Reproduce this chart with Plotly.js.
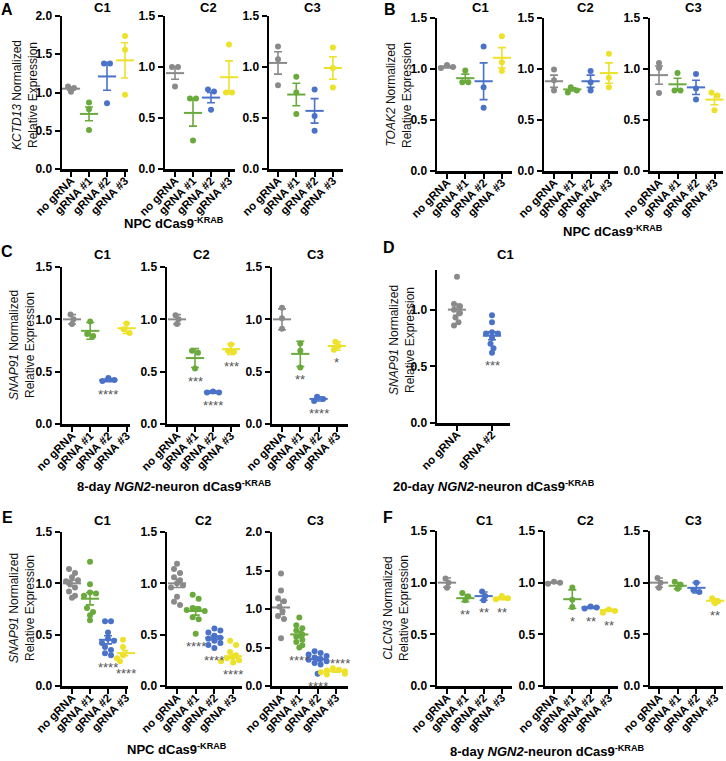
<!DOCTYPE html>
<html><head><meta charset="utf-8">
<script src="https://cdn.plot.ly/plotly-3.0.1.min.js"></script>
<style>html,body{margin:0;padding:0;background:#fff}#plot{width:726px;height:761px}</style>
</head><body><div id="plot"></div>
<script>
// ---------------- DATA ----------------
const groups4 = ['no gRNA', 'gRNA #1', 'gRNA #2', 'gRNA #3'];
const groupsD = ['no gRNA', 'gRNA #2'];

// A: KCTD13, NPC dCas9-KRAB
const A_C1_pts = [[1.08, 1.06, 1.01], [0.87, 0.78, 0.51], [1.38, 1.38, 0.86], [1.74, 1.56, 0.97]];
const A_C1_mean = [1.05, 0.72, 1.21, 1.42];
const A_C1_err = [0.02, 0.09, 0.18, 0.23];
const A_C2_pts = [[1.0, 1.0, 0.81], [0.69, 0.69, 0.28], [0.78, 0.76, 0.58], [1.22, 0.75, 0.75]];
const A_C2_mean = [0.94, 0.55, 0.70, 0.90];
const A_C2_err = [0.06, 0.13, 0.05, 0.16];
const A_C3_pts = [[1.20, 1.075, 0.82], [0.905, 0.75, 0.54], [0.78, 0.52, 0.375], [1.19, 0.99, 0.80]];
const A_C3_mean = [1.04, 0.73, 0.57, 0.99];
const A_C3_err = [0.11, 0.11, 0.12, 0.11];

// B: TOAK2, NPC dCas9-KRAB
const B_C1_pts = [[1.04, 1.02, 1.01], [0.985, 0.87, 0.87], [1.22, 0.82, 0.62], [1.32, 1.066, 0.98]];
const B_C1_mean = [1.02, 0.91, 0.88, 1.11];
const B_C1_err = [0.01, 0.04, 0.18, 0.10];
const B_C2_pts = [[0.995, 0.89, 0.79], [0.82, 0.79, 0.77], [0.98, 0.87, 0.79], [1.15, 0.915, 0.82]];
const B_C2_mean = [0.88, 0.80, 0.88, 0.96];
const B_C2_err = [0.06, 0.015, 0.06, 0.10];
const B_C3_pts = [[1.06, 1.01, 0.765], [0.96, 0.79, 0.79], [0.95, 0.81, 0.70], [0.77, 0.74, 0.595]];
const B_C3_mean = [0.94, 0.85, 0.82, 0.70];
const B_C3_err = [0.09, 0.06, 0.07, 0.05];

// C: SNAP91, 8-day NGN2-neuron
const C_C1_pts = [[1.045, 1.0, 0.955], [0.98, 0.86, 0.84], [0.44, 0.42, 0.41], [0.96, 0.905, 0.87]];
const C_C1_mean = [1.0, 0.89, 0.42, 0.915];
const C_C1_err = [0.045, 0.08, 0.015, 0.05];
const C_C1_sig = ['', '', '****', ''];
const C_C2_pts = [[1.04, 1.0, 0.955], [0.70, 0.68, 0.53], [0.31, 0.30, 0.30], [0.76, 0.70, 0.69]];
const C_C2_mean = [1.0, 0.63, 0.305, 0.715];
const C_C2_err = [0.045, 0.09, 0.01, 0.05];
const C_C2_sig = ['', '***', '****', '***'];
const C_C3_pts = [[1.11, 1.01, 0.91], [0.77, 0.70, 0.54], [0.26, 0.24, 0.22], [0.785, 0.745, 0.71]];
const C_C3_mean = [1.0, 0.67, 0.24, 0.745];
const C_C3_err = [0.10, 0.12, 0.02, 0.04];
const C_C3_sig = ['', '**', '****', '*'];

// D: SNAP91, 20-day NGN2-neuron
const D_C1_pts = [[1.29, 1.05, 1.03, 1.0, 0.97, 0.93, 0.89, 0.86], [0.95, 0.89, 0.80, 0.79, 0.79, 0.75, 0.70, 0.66, 0.62]];
const D_C1_mean = [1.0, 0.77];
const D_C1_err = [0.05, 0.035];
const D_C1_sig = ['', '***'];

// E: SNAP91, NPC dCas9-KRAB
const E_C1_pts = [[1.14, 1.10, 1.06, 1.03, 1.02, 1.0, 0.96, 0.92, 0.88, 0.86],
  [1.21, 0.99, 0.91, 0.90, 0.88, 0.76, 0.72, 0.69, 0.64],
  [0.63, 0.63, 0.52, 0.46, 0.44, 0.42, 0.38, 0.35, 0.32, 0.30],
  [0.45, 0.41, 0.38, 0.35, 0.30, 0.28, 0.27, 0.26, 0.25, 0.24]];
const E_C1_mean = [1.0, 0.85, 0.45, 0.32];
const E_C1_err = [0.03, 0.06, 0.04, 0.025];
const E_C1_sig = ['', '', '****', '****'];
const E_C2_pts = [[1.19, 1.14, 1.10, 1.06, 1.03, 1.0, 0.98, 0.96, 0.87, 0.82, 0.79],
  [0.89, 0.85, 0.76, 0.75, 0.74, 0.73, 0.67, 0.65, 0.51],
  [0.56, 0.54, 0.52, 0.49, 0.47, 0.46, 0.44, 0.42, 0.40, 0.37],
  [0.44, 0.40, 0.33, 0.30, 0.28, 0.27, 0.26, 0.25, 0.24, 0.23]];
const E_C2_mean = [1.0, 0.73, 0.47, 0.29];
const E_C2_err = [0.04, 0.04, 0.02, 0.02];
const E_C2_sig = ['', '****', '****', '****'];
const E_C3_pts = [[1.46, 1.24, 1.14, 1.10, 1.03, 0.97, 0.91, 0.87, 0.62],
  [0.89, 0.79, 0.75, 0.72, 0.67, 0.64, 0.60, 0.57, 0.53, 0.50],
  [0.45, 0.43, 0.41, 0.39, 0.37, 0.35, 0.34, 0.32, 0.30, 0.28, 0.16],
  [0.23, 0.21, 0.20, 0.19, 0.18, 0.17, 0.16, 0.15]];
const E_C3_mean = [1.02, 0.67, 0.35, 0.19];
const E_C3_err = [0.09, 0.04, 0.025, 0.01];
const E_C3_sig = ['', '****', '****', '****'];

// F: CLCN3, 8-day NGN2-neuron
const F_C1_pts = [[1.04, 1.0, 0.95], [0.90, 0.867, 0.83], [0.915, 0.87, 0.83], [0.87, 0.85, 0.84]];
const F_C1_mean = [1.0, 0.85, 0.87, 0.85];
const F_C1_err = [0.045, 0.035, 0.04, 0.015];
const F_C1_sig = ['', '**', '**', '**'];
const F_C2_pts = [[1.01, 1.0, 0.99], [0.954, 0.835, 0.764], [0.77, 0.76, 0.75], [0.74, 0.725, 0.71]];
const F_C2_mean = [1.0, 0.84, 0.76, 0.735];
const F_C2_err = [0.005, 0.09, 0.01, 0.01];
const F_C2_sig = ['', '*', '**', '**'];
const F_C3_pts = [[1.045, 1.0, 0.95], [1.01, 0.98, 0.94], [1.0, 0.93, 0.91], [0.85, 0.82, 0.80]];
const F_C3_mean = [1.0, 0.97, 0.95, 0.825];
const F_C3_err = [0.045, 0.03, 0.05, 0.02];
const F_C3_sig = ['', '', '', '**'];

// ---------------- LAYOUT / DRAWING ----------------
const W = 726, H = 761;
const FONT = 'Liberation Sans, Arial, sans-serif';
const COL4 = ['#8a8a8a', '#6aaa3c', '#4a72c8', '#ede12a'];
const COLD = ['#8a8a8a', '#4a72c8'];
const traces = [];
const layout = {
  width: W, height: H, margin: {l: 0, r: 0, t: 0, b: 0}, showlegend: false,
  paper_bgcolor: '#ffffff', plot_bgcolor: 'rgba(0,0,0,0)', annotations: [],
  font: {family: FONT, color: '#000'}
};
let nSub = 0;
const DOT = 6;

function swarmOffsets(vals, pxPerY) {
  const order = vals.map((v, i) => i).sort((a, b) => vals[b] - vals[a]);
  const placed = [];
  const off = new Array(vals.length).fill(0);
  const minD = DOT * 0.85;
  for (const i of order) {
    const y = vals[i] * pxPerY;
    let best = 0;
    for (let k = 0; k < 40; k++) {
      const c = k === 0 ? 0 : (k % 2 ? 1 : -1) * Math.ceil(k / 2) * DOT * 0.5;
      if (placed.every(p => Math.hypot(p.x - c, p.y - y) >= minD)) { best = c; break; }
    }
    off[i] = best;
    placed.push({x: best, y: y, i: i});
  }
  let r = 0;
  while (r < order.length) {
    const y0 = vals[order[r]] * pxPerY;
    let e = r;
    while (e + 1 < order.length && Math.abs(vals[order[e + 1]] * pxPerY - y0) < minD) e++;
    const row = order.slice(r, e + 1);
    if (row.length > 1) {
      const xs = row.map(i => off[i]);
      const mid = (Math.min(...xs) + Math.max(...xs)) / 2;
      row.forEach(i => off[i] -= mid);
    }
    r = e + 1;
  }
  return off;
}

function addSub(g) {
  nSub++;
  const xa = nSub === 1 ? 'xaxis' : 'xaxis' + nSub;
  const ya = nSub === 1 ? 'yaxis' : 'yaxis' + nSub;
  const xr = nSub === 1 ? 'x' : 'x' + nSub;
  const yr = nSub === 1 ? 'y' : 'y' + nSub;
  const lo = (g.x0 - g.t0) / g.s, hi = (g.x1 - g.t0) / g.s;
  const ytv = [];
  for (let v = 0; v <= g.ymax + 1e-9; v += 0.5) ytv.push(+v.toFixed(1));
  layout[xa] = {
    domain: [g.x0 / W, g.x1 / W], range: [lo, hi], anchor: yr,
    tickvals: g.cats.map((c, i) => i), ticktext: g.cats, tickangle: -45, ticklabelstandoff: -7,
    showline: true, linecolor: '#000', linewidth: 2.5, ticks: 'outside', ticklen: 5, tickwidth: 2, tickcolor: '#000',
    showgrid: false, zeroline: false, fixedrange: true, automargin: false,
    tickfont: {family: FONT, size: 11.5, color: '#000', weight: 'bold'}
  };
  layout[ya] = {
    domain: [(H - g.ybot) / H, (H - g.ytop) / H], range: [0, g.ymax], anchor: xr,
    tickvals: ytv, ticktext: ytv.map(v => v.toFixed(1)),
    showline: true, linecolor: '#000', linewidth: 2.5, ticks: 'outside', ticklen: 5, tickwidth: 2, tickcolor: '#000',
    showgrid: false, zeroline: false, fixedrange: true, automargin: false,
    tickfont: {family: FONT, size: 12, color: '#000', weight: 'bold'}
  };
  const pxPerY = (g.ybot - g.ytop) / g.ymax;
  g.pts.forEach((vals, i) => {
    const off = swarmOffsets(vals, pxPerY);
    traces.push({
      type: 'scatter', mode: 'markers', xaxis: xr, yaxis: yr, cliponaxis: false,
      x: vals.map((v, j) => i + off[j] / g.s), y: vals, hoverinfo: 'skip',
      marker: {size: DOT, color: g.cols[i], line: {width: 0}}
    });
    traces.push({
      type: 'scatter', mode: 'markers', xaxis: xr, yaxis: yr, cliponaxis: false,
      x: [i], y: [g.mean[i]], hoverinfo: 'skip',
      marker: {symbol: 'line-ew', size: 13, color: g.cols[i], line: {width: 2, color: g.cols[i]}},
      error_y: {type: 'data', array: [g.err[i]], visible: true, color: g.cols[i], thickness: 1.6, width: 4}
    });
    if (g.sig && g.sig[i]) {
      const above = g.above && g.above.includes(i);
      const lowV = Math.min(Math.min(...vals), g.mean[i] - g.err[i]);
      layout.annotations.push({
        xref: xr, yref: yr, x: i, y: above ? Math.max(...vals) : lowV,
        text: g.sig[i], showarrow: false, yanchor: above ? 'bottom' : 'top',
        yshift: above ? -5 : -3, xshift: above ? 4 : 0,
        font: {family: FONT, size: 13, color: '#555'}
      });
    }
  });
  layout.annotations.push({
    xref: 'paper', yref: 'paper', x: g.tx / W, y: 1 - g.ty / H, text: g.title,
    showarrow: false, xanchor: 'center', yanchor: 'middle',
    font: {family: FONT, size: 13, color: '#000', weight: 'bold'}
  });
}

function paperText(text, x, y, size, opts) {
  layout.annotations.push(Object.assign({
    xref: 'paper', yref: 'paper', x: x / W, y: 1 - y / H, text: text, showarrow: false,
    xanchor: 'center', yanchor: 'middle', font: {family: FONT, size: size, color: '#000', weight: 'bold'}
  }, opts || {}));
}

// A
addSub({x0: 62, x1: 128, t0: 71, s: 18, ytop: 16, ybot: 169, ymax: 2.0, cats: groups4, cols: COL4, pts: A_C1_pts, mean: A_C1_mean, err: A_C1_err, title: 'C1', tx: 102, ty: 7});
addSub({x0: 165, x1: 235, t0: 175, s: 18, ytop: 16, ybot: 169, ymax: 1.5, cats: groups4, cols: COL4, pts: A_C2_pts, mean: A_C2_mean, err: A_C2_err, title: 'C2', tx: 208, ty: 7});
addSub({x0: 269, x1: 343, t0: 278, s: 18.3, ytop: 16, ybot: 169, ymax: 1.5, cats: groups4, cols: COL4, pts: A_C3_pts, mean: A_C3_mean, err: A_C3_err, title: 'C3', tx: 312, ty: 7});
// B
addSub({x0: 437, x1: 512, t0: 447, s: 18.3, ytop: 18, ybot: 171, ymax: 1.5, cats: groups4, cols: COL4, pts: B_C1_pts, mean: B_C1_mean, err: B_C1_err, title: 'C1', tx: 480, ty: 7});
addSub({x0: 544, x1: 618, t0: 554, s: 18.3, ytop: 18, ybot: 171, ymax: 1.5, cats: groups4, cols: COL4, pts: B_C2_pts, mean: B_C2_mean, err: B_C2_err, title: 'C2', tx: 585, ty: 7});
addSub({x0: 650, x1: 723, t0: 659, s: 18.5, ytop: 18, ybot: 171, ymax: 1.5, cats: groups4, cols: COL4, pts: B_C3_pts, mean: B_C3_mean, err: B_C3_err, title: 'C3', tx: 693, ty: 7});
// C
addSub({x0: 62, x1: 130, t0: 72, s: 18.2, ytop: 267, ybot: 424, ymax: 1.5, cats: groups4, cols: COL4, pts: C_C1_pts, mean: C_C1_mean, err: C_C1_err, sig: C_C1_sig, title: 'C1', tx: 103, ty: 255});
addSub({x0: 167, x1: 240, t0: 177, s: 18, ytop: 267, ybot: 424, ymax: 1.5, cats: groups4, cols: COL4, pts: C_C2_pts, mean: C_C2_mean, err: C_C2_err, sig: C_C2_sig, title: 'C2', tx: 202, ty: 255});
addSub({x0: 272, x1: 348, t0: 282, s: 18.3, ytop: 267, ybot: 424, ymax: 1.5, cats: groups4, cols: COL4, pts: C_C3_pts, mean: C_C3_mean, err: C_C3_err, sig: C_C3_sig, title: 'C3', tx: 315, ty: 255});
// D
addSub({x0: 437, x1: 510, t0: 457, s: 35, ytop: 270, ybot: 423, ymax: 1.35, cats: groupsD, cols: COLD, pts: D_C1_pts, mean: D_C1_mean, err: D_C1_err, sig: D_C1_sig, title: 'C1', tx: 505, ty: 255});
// E
addSub({x0: 62, x1: 128, t0: 72, s: 18, ytop: 532, ybot: 686, ymax: 1.5, cats: groups4, cols: COL4, pts: E_C1_pts, mean: E_C1_mean, err: E_C1_err, sig: E_C1_sig, title: 'C1', tx: 103, ty: 520});
addSub({x0: 167, x1: 242, t0: 177, s: 18.7, ytop: 532, ybot: 686, ymax: 1.5, cats: groups4, cols: COL4, pts: E_C2_pts, mean: E_C2_mean, err: E_C2_err, sig: E_C2_sig, title: 'C2', tx: 203, ty: 520});
addSub({x0: 272, x1: 348, t0: 281, s: 18.3, ytop: 532, ybot: 686, ymax: 2.0, cats: groups4, cols: COL4, pts: E_C3_pts, mean: E_C3_mean, err: E_C3_err, sig: E_C3_sig, above: [3], title: 'C3', tx: 315, ty: 520});
// F
addSub({x0: 437, x1: 512, t0: 447, s: 18.3, ytop: 531, ybot: 686, ymax: 1.5, cats: groups4, cols: COL4, pts: F_C1_pts, mean: F_C1_mean, err: F_C1_err, sig: F_C1_sig, title: 'C1', tx: 484, ty: 520});
addSub({x0: 545, x1: 618, t0: 554, s: 18.3, ytop: 531, ybot: 686, ymax: 1.5, cats: groups4, cols: COL4, pts: F_C2_pts, mean: F_C2_mean, err: F_C2_err, sig: F_C2_sig, title: 'C2', tx: 585, ty: 520});
addSub({x0: 650, x1: 723, t0: 659, s: 18.7, ytop: 531, ybot: 686, ymax: 1.5, cats: groups4, cols: COL4, pts: F_C3_pts, mean: F_C3_mean, err: F_C3_err, sig: F_C3_sig, title: 'C3', tx: 693, ty: 520});

// panel letters
paperText('A', 7, 10, 16);
paperText('B', 390, 10, 16);
paperText('C', 7, 251, 16);
paperText('D', 389, 247, 16);
paperText('E', 7, 517, 16);
paperText('F', 388, 517, 16);

// y-axis titles
const yt = (gene) => '<i>' + gene + '</i> Normalized<br>Relative Expression';
const ytOpts = {textangle: -90, font: {family: FONT, size: 12, color: '#111', weight: 'normal'}};
paperText(yt('KCTD13'), 25, 95, 12, ytOpts);
paperText(yt('TOAK2'), 399, 95, 12, ytOpts);
paperText(yt('SNAP91'), 22, 345, 12, ytOpts);
paperText(yt('SNAP91'), 402, 340, 12, ytOpts);
paperText(yt('SNAP91'), 22, 608, 12, ytOpts);
paperText(yt('CLCN3'), 396, 608, 12, ytOpts);

// group labels
const npc = 'NPC dCas9<sup>-KRAB</sup>';
paperText(npc, 174, 223, 13);
paperText(npc, 613, 231, 13);
paperText('8-day <i>NGN2</i>-neuron dCas9<sup>-KRAB</sup>', 174, 486, 13);
paperText('20-day <i>NGN2</i>-neuron dCas9<sup>-KRAB</sup>', 494, 486, 13);
paperText(npc, 177, 749, 13);
paperText('8-day <i>NGN2</i>-neuron dCas9<sup>-KRAB</sup>', 547, 751, 13);

Plotly.newPlot('plot', traces, layout, {staticPlot: true, displayModeBar: false});
</script>
</body></html>
